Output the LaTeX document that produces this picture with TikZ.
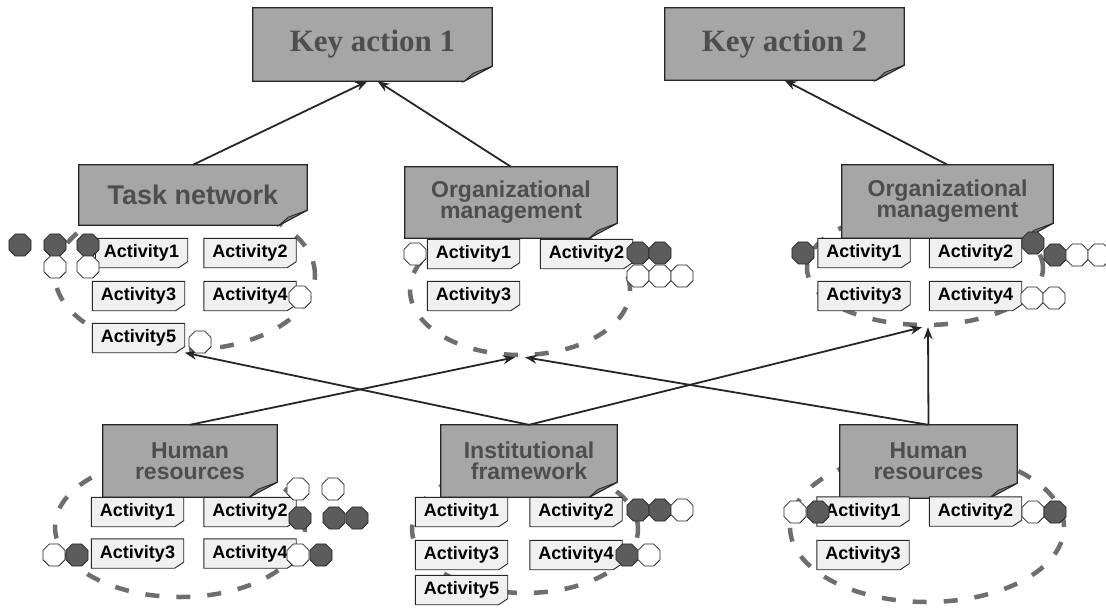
\documentclass[tikz,border=0pt]{standalone}
\usepackage{fontspec}
\setmainfont{Liberation Serif}
\setsansfont{Liberation Sans}
\usetikzlibrary{shapes.geometric,arrows.meta}

\definecolor{boxgray}{HTML}{A6A6A6}
\definecolor{titlegray}{HTML}{4E4E4E}
\definecolor{notefill}{HTML}{F0F0F0}
\definecolor{dashgray}{HTML}{6E6E6E}
\definecolor{dotfill}{HTML}{5C5C5C}
\definecolor{inkline}{HTML}{262626}
\definecolor{flapgray}{HTML}{7A7A7A}

\pgfdeclarelayer{sheet}
\pgfdeclarelayer{ring}
\pgfdeclarelayer{paper}
\pgfsetlayers{sheet,ring,paper,main}

\tikzset{
  titletext/.style={font=\sffamily\bfseries\fontsize{23}{21}\selectfont,
    text=titlegray, align=center, inner sep=0pt},
  keytext/.style={font=\rmfamily\bfseries\fontsize{31}{34}\selectfont,
    text=titlegray, inner sep=0pt},
  titleshape/.style={fill=boxgray, draw=inkline, line width=1.2pt},
  flap/.style={fill=flapgray, draw=inkline, line width=0.8pt},
  acttext/.style={font=\sffamily\bfseries\fontsize{18}{20}\selectfont,
    minimum width=92pt, minimum height=29pt, inner sep=0pt},
  actshape/.style={fill=notefill, draw=inkline, line width=0.9pt},
  dot/.style={regular polygon, regular polygon sides=8, minimum size=24pt,
    inner sep=0pt, draw=inkline, line width=0.8pt},
  whitedot/.style={dot, fill=white},
  darkdot/.style={dot, fill=dotfill},
  ring/.style={ellipse, inner sep=0pt, draw=dashgray, line width=4.5pt,
    dash pattern=on 14pt off 17pt},
  link/.style={draw=inkline, line width=1.8pt,
    -{Stealth[length=12pt, width=9pt]}},
}

% big dog-eared box: name, centre, width, height, text, text style
\newcommand\bigbox[6]{%
  \node[#6, minimum width=#3pt, minimum height=#4pt] (#1) at #2 {#5};
  \begin{pgfonlayer}{paper}
    \filldraw[titleshape] (#1.north west) -- (#1.north east)
      -- ([yshift=15pt]#1.south east) -- ([xshift=-28pt]#1.south east)
      -- (#1.south west) -- cycle;
    \filldraw[flap] ([xshift=-28pt]#1.south east) -- ([yshift=15pt]#1.south east)
      -- ([xshift=-19pt,yshift=8pt]#1.south east) -- cycle;
  \end{pgfonlayer}
}
% small dog-eared activity note: name, centre, text
\newcommand\actbox[3]{%
  \node[acttext] (#1) at #2 {#3};
  \begin{pgfonlayer}{paper}
    \filldraw[actshape] (#1.north west) -- (#1.north east)
      -- ([yshift=6pt]#1.south east) -- ([xshift=-9pt]#1.south east)
      -- (#1.south west) -- cycle;
  \end{pgfonlayer}
}

\begin{document}
\begin{tikzpicture}[x=1pt, y=-1pt]
\begin{pgfonlayer}{sheet}
  \fill[white] (0,0) rectangle (1106,614);
\end{pgfonlayer}
\useasboundingbox (0,0) rectangle (1106,614);

% dashed groupings
\begin{pgfonlayer}{ring}
  \node[ring, minimum width=260pt, minimum height=150pt] (tnE) at (185,275) {};
  \node[ring, minimum width=220pt, minimum height=130pt] (om1E) at (520,290) {};
  \node[ring, minimum width=236pt, minimum height=114pt] (om2E) at (925,268) {};
  \node[ring, minimum width=250pt, minimum height=140pt] (hrlE) at (180,527) {};
  \node[ring, minimum width=226pt, minimum height=128pt] (ifE) at (525,529) {};
  \node[ring, minimum width=274pt, minimum height=150pt] (hrrE) at (927,527) {};
\end{pgfonlayer}

% key actions
\bigbox{ka1}{(372.5,44.5)}{239}{73}{Key action 1}{keytext}
\bigbox{ka2}{(784.5,44)}{239}{72}{Key action 2}{keytext}

% middle row
\bigbox{tn}{(193,195)}{228}{60}{Task network}{titletext, font=\sffamily\bfseries\fontsize{27}{27}\selectfont}
\bigbox{om1}{(511,202.5)}{212}{71}{Organizational\\management}{titletext}
\bigbox{om2}{(947.5,201.5)}{211}{73}{Organizational\\management}{titletext}

% bottom row
\bigbox{hrl}{(190,461)}{174}{72}{Human\\resources}{titletext}
\bigbox{if}{(529,461)}{176}{72}{Institutional\\framework}{titletext}
\bigbox{hrr}{(928.5,461.5)}{177}{73}{Human\\resources}{titletext}

% activities
\actbox{tn1}{(141.5,253)}{Activity1}
\actbox{tn2}{(250,253)}{Activity2}
\actbox{tn3}{(138.5,296)}{Activity3}
\actbox{tn4}{(250,296)}{Activity4}
\actbox{tn5}{(138.5,338)}{Activity5}

\actbox{oa1}{(473.5,254)}{Activity1}
\actbox{oa2}{(586.5,254)}{Activity2}
\actbox{oa3}{(473.5,296)}{Activity3}

\actbox{ob1}{(864,253)}{Activity1}
\actbox{ob2}{(975.5,253)}{Activity2}
\actbox{ob3}{(864,296)}{Activity3}
\actbox{ob4}{(975.5,296)}{Activity4}

\actbox{ha1}{(137.5,512)}{Activity1}
\actbox{ha2}{(250,512)}{Activity2}
\actbox{ha3}{(137.5,553.5)}{Activity3}
\actbox{ha4}{(250,553.5)}{Activity4}

\actbox{if1}{(461.5,512)}{Activity1}
\actbox{if2}{(576,512)}{Activity2}
\actbox{if3}{(461.5,555)}{Activity3}
\actbox{if4}{(576,555)}{Activity4}
\actbox{if5}{(461.5,590)}{Activity5}

\actbox{hb1}{(863,511.5)}{Activity1}
\actbox{hb2}{(975.5,511.5)}{Activity2}
\actbox{hb3}{(863,555)}{Activity3}

% connectors
\draw[link] (tn.north) -- ([xshift=-5pt]ka1.south);
\draw[link] (om1.north) -- ([xshift=5pt]ka1.south);
\draw[link] (om2.north) -- (ka2.south);
\draw[link] (hrl.north) -- ([xshift=-5pt]om1E.south);
\draw[link] (if.north) -- (tn5.south east);
\draw[link] (if.north) -- ([xshift=-3pt]om2E.south);
\draw[link] (hrr.north) -- ([xshift=5pt]om1E.south);
\draw[link] (hrr.north) -- ([xshift=3pt]om2E.south);

% markers: task network
\node[darkdot] (tnd1) at (20,245) {};
\node[darkdot] (tnd2) at (55,245) {};
\node[darkdot] (tnd3) at (88,245) {};
\node[whitedot] (tnw1) at (55,267) {};
\node[whitedot] (tnw2) at (88,267) {};
\node[whitedot] (tnw3) at (300,297) {};
\node[whitedot] (tnw4) at (200,342) {};

% markers: organizational management (left)
\node[whitedot] (oaw1) at (415,254) {};
\node[darkdot] (oad1) at (638,253) {};
\node[darkdot] (oad2) at (660,253) {};
\node[whitedot] (oaw2) at (638,276) {};
\node[whitedot] (oaw3) at (660,276) {};
\node[whitedot] (oaw4) at (682,276) {};

% markers: organizational management (right)
\node[darkdot] (obd1) at (803,253) {};
\node[darkdot] (obd2) at (1033,243) {};
\node[darkdot] (obd3) at (1055,255) {};
\node[whitedot] (obw1) at (1077,255) {};
\node[whitedot] (obw2) at (1099,255) {};
\node[whitedot] (obw3) at (1032,298) {};
\node[whitedot] (obw4) at (1054,298) {};

% markers: human resources (left)
\node[whitedot] (haw1) at (298,489) {};
\node[whitedot] (haw2) at (333,489) {};
\node[darkdot] (had1) at (300,518) {};
\node[darkdot] (had2) at (334,518) {};
\node[darkdot] (had3) at (357,518) {};
\node[whitedot] (haw3) at (54,555) {};
\node[darkdot] (had4) at (77,555) {};
\node[whitedot] (haw4) at (298,555) {};
\node[darkdot] (had5) at (321,555) {};

% markers: institutional framework
\node[darkdot] (ifd1) at (638,510) {};
\node[darkdot] (ifd2) at (660,510) {};
\node[whitedot] (ifw1) at (682,510) {};
\node[darkdot] (ifd3) at (627,555) {};
\node[whitedot] (ifw2) at (649,555) {};

% markers: human resources (right)
\node[whitedot] (hbw1) at (795,512) {};
\node[darkdot] (hbd1) at (818,512) {};
\node[whitedot] (hbw2) at (1033,512) {};
\node[darkdot] (hbd2) at (1055,512) {};
\end{tikzpicture}
\end{document}
